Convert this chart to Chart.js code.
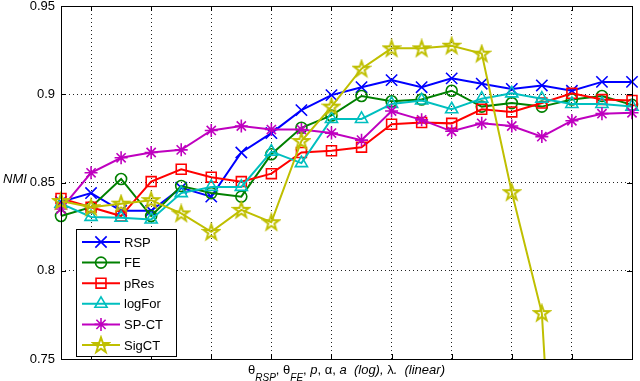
<!DOCTYPE html>
<html>
<head>
<meta charset="utf-8">
<script src="https://cdn.jsdelivr.net/npm/chart.js@4/dist/chart.umd.min.js"></script>
<style>
  html, body { margin: 0; padding: 0; background: #fff; }
  canvas { display: block; }
</style>
</head>
<body>
<canvas id="nmiChart" width="640" height="381"></canvas>
<script>
// parameter steps along x (the original has no tick labels here)
const paramSteps = ['1','2','3','4','5','6','7','8','9','10','11','12','13','14','15','16','17','18','19','20'];
const yTicks = [0.75, 0.8, 0.85, 0.9, 0.95];

const rsp    = [0.839, 0.844, 0.834, 0.834, 0.847, 0.842, 0.867, 0.878, 0.891, 0.8995, 0.904, 0.908, 0.904, 0.909, 0.906, 0.903, 0.905, 0.902, 0.907, 0.907];
const fe     = [0.831, 0.836, 0.852, 0.831, 0.848, 0.844, 0.842, 0.866, 0.881, 0.888, 0.899, 0.896, 0.897, 0.902, 0.893, 0.895, 0.893, 0.897, 0.899, 0.894];
const pRes   = [0.841, 0.836, 0.831, 0.8505, 0.8575, 0.853, 0.8505, 0.855, 0.867, 0.868, 0.870, 0.883, 0.884, 0.8835, 0.8915, 0.890, 0.895, 0.9005, 0.897, 0.8965];
const logFor = [0.838, 0.8305, 0.830, 0.829, 0.844, 0.8475, 0.8475, 0.8675, 0.861, 0.886, 0.886, 0.8945, 0.8965, 0.8915, 0.8975, 0.9005, 0.8975, 0.8945, 0.8945, 0.893];
const spCT   = [0.835, 0.8555, 0.864, 0.867, 0.8685, 0.8795, 0.882, 0.880, 0.880, 0.878, 0.874, 0.8905, 0.8855, 0.879, 0.8835, 0.882, 0.876, 0.885, 0.889, 0.8895];
const sigCT  = [0.8395, 0.836, 0.838, 0.840, 0.8325, 0.822, 0.8345, 0.8275, 0.8735, 0.893, 0.9145, 0.926, 0.926, 0.9275, 0.923, 0.8445, 0.776, 0.49, 0.45, 0.45];

// matlab pentagram marker, not available in chart.js
function pentagram(color, r) {
  var c = document.createElement('canvas');
  var s = Math.ceil(r * 2 + 4);
  c.width = s; c.height = s;
  var g = c.getContext('2d');
  g.translate(s / 2, s / 2 + 0.5);
  g.beginPath();
  for (var i = 0; i < 10; i++) {
    var rad = i % 2 ? r * 0.4 : r;
    var a = -Math.PI / 2 + i * Math.PI / 5;
    g.lineTo(rad * Math.cos(a), rad * Math.sin(a));
  }
  g.closePath();
  g.strokeStyle = color;
  g.lineWidth = 2;
  g.stroke();
  return c;
}

const series = [
  { label: 'RSP',    data: rsp,    color: '#0000ff', style: 'crossRot', radius: 8 },
  { label: 'FE',     data: fe,     color: '#008000', style: 'circle',   radius: 5.5 },
  { label: 'pRes',   data: pRes,   color: '#ff0000', style: 'rect',     radius: 7 },
  { label: 'logFor', data: logFor, color: '#00bfbf', style: 'triangle', radius: 7 },
  { label: 'SP-CT',  data: spCT,   color: '#bf00bf', style: 'star',     radius: 6.5 },
  { label: 'SigCT',  data: sigCT,  color: '#bfbf00', style: pentagram('#bfbf00', 8), radius: 8 }
];

const datasets = series.map(function (s, i) {
  return {
    label: s.label,
    data: s.data,
    borderColor: s.color,
    backgroundColor: 'rgba(0,0,0,0)',
    borderWidth: 2,
    pointStyle: s.style,
    pointRadius: s.radius,
    pointBorderWidth: 1.6,
    pointBorderColor: s.color,
    pointBackgroundColor: 'rgba(0,0,0,0)',
    tension: 0,
    order: series.length - i
  };
});

const font = 'Liberation Sans, Arial, Helvetica, sans-serif';

const matlabAxes = {
  id: 'matlabAxes',
  afterDraw(chart) {
    const ctx = chart.ctx;
    const a = chart.chartArea;
    const x = chart.scales.x, y = chart.scales.y;
    ctx.save();
    ctx.strokeStyle = '#000';
    ctx.lineWidth = 1;
    ctx.strokeRect(Math.round(a.left) + 0.5, Math.round(a.top) + 0.5,
      Math.round(a.right - a.left), Math.round(a.bottom - a.top));
    // inward tick marks
    ctx.beginPath();
    for (let i = 1; i < paramSteps.length - 1; i += 2) {
      const px = Math.round(x.getPixelForValue(i)) + 0.5;
      ctx.moveTo(px, a.bottom); ctx.lineTo(px, a.bottom - 5);
      ctx.moveTo(px, a.top); ctx.lineTo(px, a.top + 5);
    }
    yTicks.forEach(function (v) {
      const py = Math.round(y.getPixelForValue(v)) + 0.5;
      ctx.moveTo(a.left, py); ctx.lineTo(a.left + 5, py);
      ctx.moveTo(a.right, py); ctx.lineTo(a.right - 5, py);
    });
    ctx.stroke();

    // y label
    ctx.fillStyle = '#000';
    ctx.font = 'italic 13px ' + font;
    ctx.textBaseline = 'middle';
    ctx.textAlign = 'left';
    ctx.fillText('NMI', 3, 179);

    // x label with subscripts
    const parts = [
      ['θ', 'normal', 0], ['RSP', 'italic', 1], [', ', 'normal', 0],
      ['θ', 'normal', 0], ['FE', 'italic', 1], [', ', 'normal', 0],
      ['p', 'italic', 0], [', ', 'normal', 0], ['α', 'normal', 0], [', ', 'normal', 0],
      ['a', 'italic', 0], ['  (log), ', 'italic', 0], ['λ', 'normal', 0], ['.  (linear)', 'italic', 0]
    ];
    ctx.textBaseline = 'alphabetic';
    let total = 0;
    parts.forEach(function (p) {
      ctx.font = p[1] + ' ' + (p[2] ? 10 : 13) + 'px ' + font;
      p.w = ctx.measureText(p[0]).width;
      total += p.w;
    });
    let cx = (a.left + a.right) / 2 - total / 2;
    parts.forEach(function (p) {
      ctx.font = p[1] + ' ' + (p[2] ? 10 : 13) + 'px ' + font;
      ctx.fillText(p[0], cx, p[2] ? 381 : 374);
      cx += p.w;
    });

    // legend box inside the axes
    const lx = 76, ly = 229, lw = 100, lh = 127;
    ctx.fillStyle = '#fff';
    ctx.fillRect(lx, ly, lw, lh);
    ctx.strokeStyle = '#000';
    ctx.strokeRect(lx + 0.5, ly + 0.5, lw, lh);
    series.forEach(function (s, i) {
      const ry = 242 + i * 20.6;
      ctx.strokeStyle = s.color;
      ctx.lineWidth = 2;
      ctx.beginPath();
      ctx.moveTo(82, ry); ctx.lineTo(120, ry);
      ctx.stroke();
      ctx.lineWidth = 1.6;
      ctx.fillStyle = 'rgba(0,0,0,0)';
      Chart.helpers.drawPoint(ctx, { pointStyle: s.style, radius: s.radius, rotation: 0, borderWidth: 1.6 }, 101, ry);
      ctx.fillStyle = '#000';
      ctx.font = '13px ' + font;
      ctx.textBaseline = 'middle';
      ctx.fillText(s.label, 124, ry + 1);
    });
    ctx.restore();
  }
};

new Chart(document.getElementById('nmiChart'), {
  type: 'line',
  data: { labels: paramSteps, datasets: datasets },
  options: {
    responsive: false,
    animation: false,
    layout: { autoPadding: false, padding: { top: 6, right: 8, left: 0, bottom: 0 } },
    plugins: { legend: { display: false }, tooltip: { enabled: false } },
    scales: {
      x: {
        offset: false,
        ticks: { display: false },
        grid: {
          drawTicks: false,
          color: function (c) { return c.index % 2 === 1 && c.index < paramSteps.length - 1 ? '#222' : 'rgba(0,0,0,0)'; },
          borderDash: [1, 3]
        },
        border: { display: false, dash: [1, 3] },
        afterFit: function (s) { s.height = 22; s.paddingLeft = 0; s.paddingRight = 0; }
      },
      y: {
        min: 0.75,
        max: 0.95,
        afterBuildTicks: function (s) { s.ticks = yTicks.map(function (v) { return { value: v }; }); },
        ticks: {
          padding: 6,
          color: '#000',
          font: { family: font, size: 13 },
          callback: function (v) { return String(+v.toFixed(2)); }
        },
        grid: { drawTicks: false, color: '#222', borderDash: [1, 3] },
        border: { display: false, dash: [1, 3] },
        afterFit: function (s) { s.width = 61; s.paddingTop = 0; s.paddingBottom = 0; }
      }
    }
  },
  plugins: [matlabAxes]
});
</script>
</body>
</html>
